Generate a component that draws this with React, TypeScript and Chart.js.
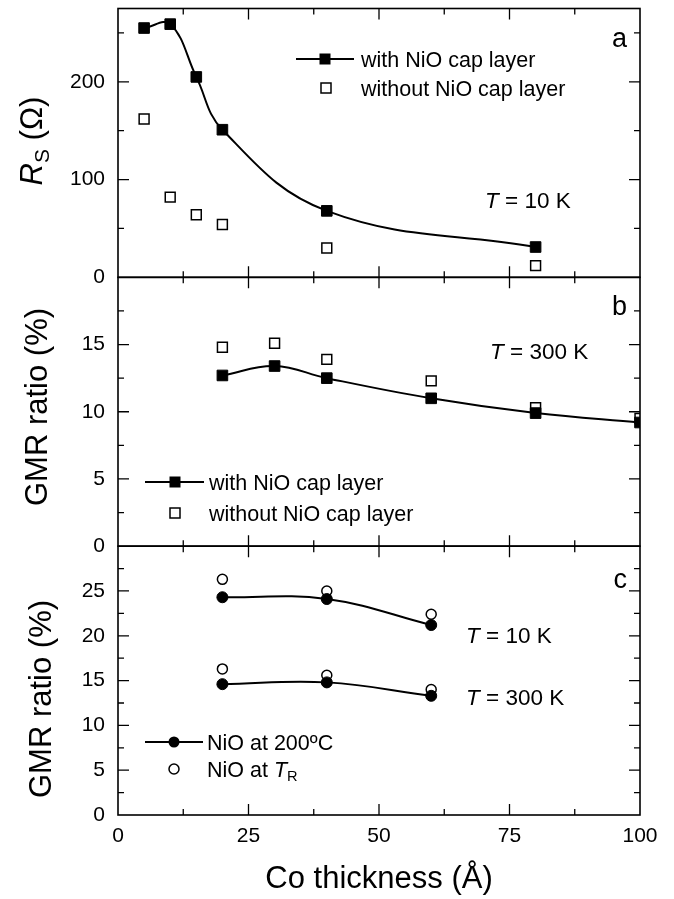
import React, { useEffect, useRef } from 'react';
import { Chart, registerables } from 'chart.js';

Chart.register(...registerables);

// ---------- data ----------
const thicknessA = [5, 10, 15, 20, 40, 80];
const rsWithCap = [255, 259, 205, 151, 68, 31];
const rsWithoutCap = [162, 82, 64, 54, 30, 12];

const thicknessB = [20, 30, 40, 60, 80, 100];
const gmrWithCap300K = [12.7, 13.4, 12.5, 11.0, 9.9, 9.2];
const gmrWithoutCap300K = [14.8, 15.1, 13.9, 12.3, 10.3, 9.5];

const thicknessC = [20, 40, 60];
const gmr200C_10K = [24.3, 24.1, 21.2];
const gmrRT_10K = [26.3, 25.0, 22.4];
const gmr200C_300K = [14.6, 14.8, 13.3];
const gmrRT_300K = [16.3, 15.6, 14.0];

const xTickLabels = [0, 25, 50, 75, 100];
const yTickLabelsA = [0, 100, 200];
const yTickLabelsB = [0, 5, 10, 15];
const yTickLabelsC = [0, 5, 10, 15, 20, 25];

const FONT = '"Liberation Sans", Arial, sans-serif';

type Part = { t: string; it?: boolean; sub?: boolean };

function fontFor(size: number, it?: boolean) {
  return `${it ? 'italic ' : ''}${size}px ${FONT}`;
}

function richWidth(ctx: CanvasRenderingContext2D, parts: Part[], size: number) {
  let w = 0;
  for (const p of parts) {
    ctx.font = fontFor(p.sub ? size * 0.68 : size, p.it);
    w += ctx.measureText(p.t).width;
  }
  return w;
}

// draws text whose cap-centre sits at y
function drawRich(
  ctx: CanvasRenderingContext2D,
  parts: Part[],
  x: number,
  y: number,
  size: number,
  align: 'left' | 'center' | 'right' = 'left'
) {
  const w = richWidth(ctx, parts, size);
  let cx = align === 'left' ? x : align === 'center' ? x - w / 2 : x - w;
  const base = y + size * 0.36;
  ctx.textAlign = 'left';
  ctx.textBaseline = 'alphabetic';
  for (const p of parts) {
    const s = p.sub ? size * 0.68 : size;
    ctx.font = fontFor(s, p.it);
    ctx.fillText(p.t, cx, p.sub ? base + size * 0.22 : base);
    cx += ctx.measureText(p.t).width;
  }
}

function toPoints(xs: number[], ys: number[]) {
  return xs.map((x, i) => ({ x, y: ys[i] }));
}

const PANEL_IDS = ['ya', 'yb', 'yc'];
const MAJOR_LEN = 11;
const MINOR_LEN = 6;

const overlayPlugin = {
  id: 'overlay',
  afterDraw(chart: any) {
    const ctx: CanvasRenderingContext2D = chart.ctx;
    const { left, right } = chart.chartArea;
    const xs = chart.scales.x;
    ctx.save();
    ctx.strokeStyle = '#000';
    ctx.fillStyle = '#000';

    // frames and inward ticks
    for (const id of PANEL_IDS) {
      const s = chart.scales[id];
      const top = s.top;
      const bottom = s.bottom;
      ctx.lineWidth = 1.6;
      ctx.strokeRect(left, top, right - left, bottom - top);
      ctx.lineWidth = 1.3;
      ctx.beginPath();
      const xStep = xs.options.ticks.stepSize / 2;
      for (let v = xs.min + xStep; v < xs.max - 1e-6; v += xStep) {
        const px = xs.getPixelForValue(v);
        const major = Math.abs(v / (2 * xStep) - Math.round(v / (2 * xStep))) < 1e-6;
        const len = major ? MAJOR_LEN : MINOR_LEN;
        ctx.moveTo(px, bottom);
        ctx.lineTo(px, bottom - len);
        ctx.moveTo(px, top);
        ctx.lineTo(px, top + len);
      }
      const yStep = s.options.ticks.stepSize / 2;
      for (let v = s.min + yStep; v < s.max - 1e-6; v += yStep) {
        const py = s.getPixelForValue(v);
        const major = Math.abs(v / (2 * yStep) - Math.round(v / (2 * yStep))) < 1e-6;
        const len = major ? MAJOR_LEN : MINOR_LEN;
        ctx.moveTo(left, py);
        ctx.lineTo(left + len, py);
        ctx.moveTo(right, py);
        ctx.lineTo(right - len, py);
      }
      ctx.stroke();
    }

    // y-axis titles (rotated)
    const yTitles: { parts: Part[]; x: number; y: number }[] = [
      { parts: [{ t: 'R', it: true }, { t: 'S', sub: true }, { t: ' (Ω)' }], x: 31, y: 141 },
      { parts: [{ t: 'GMR ratio (%)' }], x: 36, y: 407 },
      { parts: [{ t: 'GMR ratio (%)' }], x: 40, y: 699 },
    ];
    for (const tt of yTitles) {
      ctx.save();
      ctx.translate(tt.x, tt.y);
      ctx.rotate(-Math.PI / 2);
      drawRich(ctx, tt.parts, 0, 0, 31, 'center');
      ctx.restore();
    }

    // panel letters
    ctx.font = fontFor(27);
    ctx.textAlign = 'right';
    ctx.textBaseline = 'alphabetic';
    ctx.fillText('a', 627, 47);
    ctx.fillText('b', 627, 315);
    ctx.fillText('c', 627, 588);

    // temperature labels
    drawRich(ctx, [{ t: 'T', it: true }, { t: ' = 10 K' }], 485, 200, 22.5);
    drawRich(ctx, [{ t: 'T', it: true }, { t: ' = 300 K' }], 490, 351, 22.5);
    drawRich(ctx, [{ t: 'T', it: true }, { t: ' = 10 K' }], 466, 635, 22.5);
    drawRich(ctx, [{ t: 'T', it: true }, { t: ' = 300 K' }], 466, 697, 22.5);

    // legends
    const line = (x1: number, x2: number, y: number) => {
      ctx.lineWidth = 2;
      ctx.beginPath();
      ctx.moveTo(x1, y);
      ctx.lineTo(x2, y);
      ctx.stroke();
    };
    const fSq = (x: number, y: number) => ctx.fillRect(x - 5.5, y - 5.5, 11, 11);
    const oSq = (x: number, y: number) => {
      ctx.lineWidth = 1.5;
      ctx.strokeRect(x - 5, y - 5, 10, 10);
    };
    const fCirc = (x: number, y: number) => {
      ctx.beginPath();
      ctx.arc(x, y, 5.5, 0, Math.PI * 2);
      ctx.fill();
    };
    const oCirc = (x: number, y: number) => {
      ctx.lineWidth = 1.5;
      ctx.beginPath();
      ctx.arc(x, y, 5, 0, Math.PI * 2);
      ctx.stroke();
    };

    const LS = 21.5;
    // panel a legend
    line(296, 354, 59);
    fSq(325, 59);
    drawRich(ctx, [{ t: 'with NiO cap layer' }], 361, 59, LS);
    oSq(326, 88);
    drawRich(ctx, [{ t: 'without NiO cap layer' }], 361, 88, LS);

    // panel b legend
    line(145, 204, 482);
    fSq(175, 482);
    drawRich(ctx, [{ t: 'with NiO cap layer' }], 209, 482, LS);
    oSq(175, 513);
    drawRich(ctx, [{ t: 'without NiO cap layer' }], 209, 513, LS);

    // panel c legend
    line(145, 203, 742);
    fCirc(174, 742);
    drawRich(ctx, [{ t: 'NiO at 200ºC' }], 207, 742, LS);
    oCirc(174, 769);
    drawRich(ctx, [{ t: 'NiO at ' }, { t: 'T', it: true }, { t: 'R', sub: true }], 207, 769, LS);

    ctx.restore();
  },
};

function yScale(max: number, step: number, labels: number[]) {
  return {
    type: 'linear' as const,
    position: 'left' as const,
    stack: 'panels',
    stackWeight: 1,
    min: 0,
    max,
    grid: { display: false, drawTicks: false },
    border: { display: false },
    ticks: {
      stepSize: step,
      includeBounds: false,
      autoSkip: false,
      padding: 13,
      color: '#000',
      font: { size: 21, family: FONT },
      callback: (v: any) => (labels.includes(Number(v)) ? String(v) : ''),
    },
    afterFit: (s: any) => {
      s.width = 118;
      s.paddingTop = 0;
      s.paddingBottom = 0;
    },
  };
}

export default function App() {
  const ref = useRef<HTMLCanvasElement>(null);
  useEffect(() => {
    if (!ref.current) return;
    const lineBase = {
      borderColor: '#000',
      backgroundColor: '#000',
      pointBackgroundColor: '#000',
      pointBorderColor: '#000',
      borderWidth: 2,
      tension: 0.4,
      pointBorderWidth: 1,
    };
    const openBase = {
      showLine: false,
      borderColor: '#000',
      pointBackgroundColor: '#fff',
      pointBorderColor: '#000',
      pointBorderWidth: 1.5,
    };
    const chart = new Chart(ref.current, {
      type: 'line',
      data: {
        datasets: [
          { ...lineBase, label: 'with NiO cap layer (10 K)', yAxisID: 'ya', data: toPoints(thicknessA, rsWithCap), pointStyle: 'rect', pointRadius: 7.5 },
          { ...lineBase, label: 'with NiO cap layer (300 K)', yAxisID: 'yb', data: toPoints(thicknessB, gmrWithCap300K), pointStyle: 'rect', pointRadius: 7.5, clip: 0 },
          { ...lineBase, label: 'NiO at 200ºC, 10 K', yAxisID: 'yc', data: toPoints(thicknessC, gmr200C_10K), pointStyle: 'circle', pointRadius: 5.5 },
          { ...lineBase, label: 'NiO at 200ºC, 300 K', yAxisID: 'yc', data: toPoints(thicknessC, gmr200C_300K), pointStyle: 'circle', pointRadius: 5.5 },
          { ...openBase, label: 'without NiO cap layer (10 K)', yAxisID: 'ya', data: toPoints(thicknessA, rsWithoutCap), pointStyle: 'rect', pointRadius: 7 },
          { ...openBase, label: 'without NiO cap layer (300 K)', yAxisID: 'yb', data: toPoints(thicknessB, gmrWithoutCap300K), pointStyle: 'rect', pointRadius: 7, clip: 0 },
          { ...openBase, label: 'NiO at TR, 10 K', yAxisID: 'yc', data: toPoints(thicknessC, gmrRT_10K), pointStyle: 'circle', pointRadius: 5 },
          { ...openBase, label: 'NiO at TR, 300 K', yAxisID: 'yc', data: toPoints(thicknessC, gmrRT_300K), pointStyle: 'circle', pointRadius: 5 },
        ] as any,
      },
      options: {
        responsive: false,
        animation: false,
        events: [],
        layout: { padding: { left: 0, right: 34, top: 6, bottom: 0 } },
        plugins: { legend: { display: false }, tooltip: { enabled: false } },
        scales: {
          x: {
            type: 'linear',
            position: 'bottom',
            min: 0,
            max: 100,
            grid: { display: false, drawTicks: false },
            border: { display: false },
            ticks: {
              stepSize: 25,
              autoSkip: false,
              padding: 9,
              color: '#000',
              font: { size: 21, family: FONT },
              callback: (v: any) => (xTickLabels.includes(Number(v)) ? String(v) : ''),
            },
            title: {
              display: true,
              text: 'Co thickness (Å)',
              color: '#000',
              font: { size: 31, family: FONT, lineHeight: 1 },
              padding: { top: 0, bottom: 4 },
            },
            afterFit: (s: any) => {
              s.height = 84;
              s.paddingLeft = 0;
              s.paddingRight = 0;
            },
          },
          yc: yScale(30, 5, yTickLabelsC),
          yb: yScale(20, 5, yTickLabelsB),
          ya: yScale(275, 100, yTickLabelsA),
        } as any,
      },
      plugins: [overlayPlugin],
    });
    return () => chart.destroy();
  }, []);
  return (
    <div style={{ position: 'absolute', left: 0, top: 0, width: 674, height: 899, background: '#fff' }}>
      <canvas ref={ref} width={674} height={899} style={{ display: 'block', width: 674, height: 899 }} />
    </div>
  );
}
